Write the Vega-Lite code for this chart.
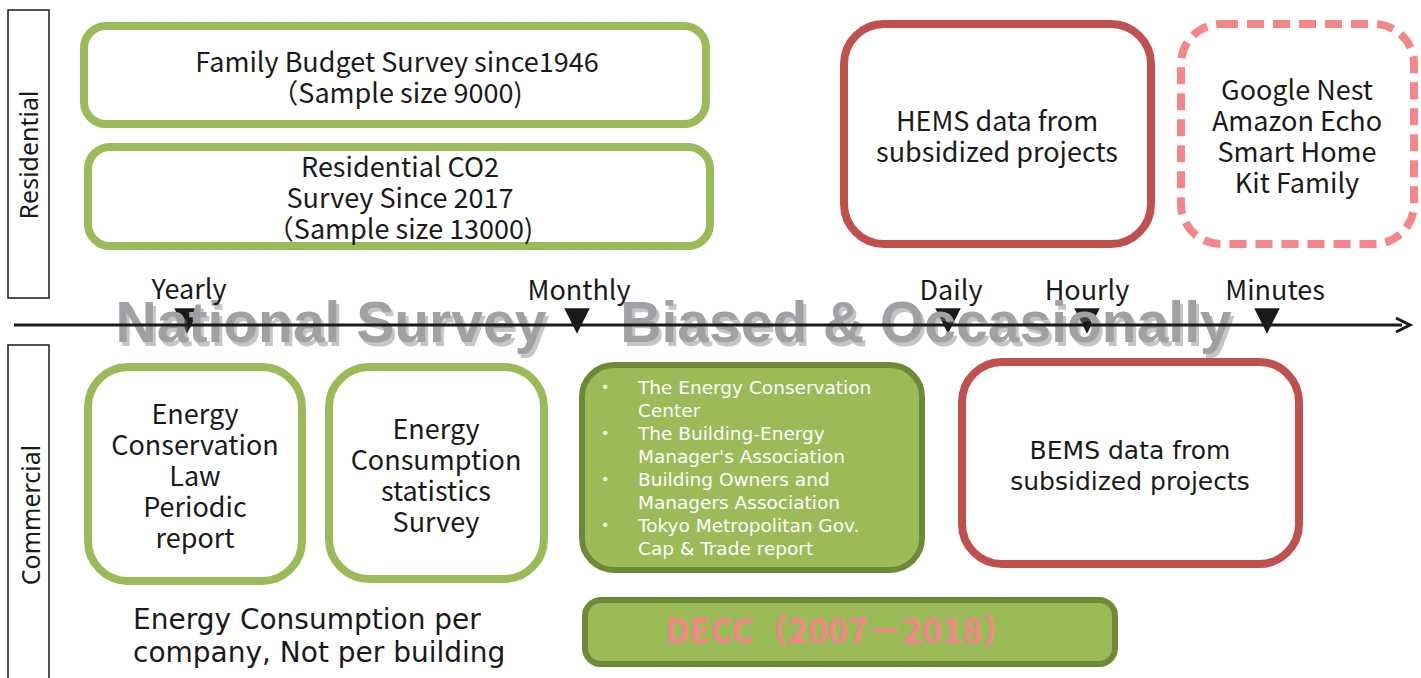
{
  "$schema": "https://vega.github.io/schema/vega-lite/v6.json",
  "width": 1421,
  "height": 678,
  "autosize": {"type": "fit", "contains": "padding"},
  "padding": 0,
  "background": "white",
  "config": {"view": {"stroke": null}},
  "datasets": {
    "panels": [
      {"sector": "Residential", "x": 8, "x2": 49, "y": 10, "y2": 298, "tx": 30, "ty": 155},
      {"sector": "Commercial", "x": 8, "x2": 49, "y": 345, "y2": 700, "tx": 32, "ty": 515}
    ],
    "sources": [
      {"id": "family", "group": "res", "type": "survey", "x": 84, "x2": 706, "y": 26, "y2": 124},
      {"id": "co2", "group": "res", "type": "survey", "x": 88, "x2": 710, "y": 147, "y2": 246},
      {"id": "hems", "group": "big", "type": "subsidy", "x": 844, "x2": 1151, "y": 24, "y2": 244},
      {"id": "nest", "group": "dash", "type": "device", "x": 1181, "x2": 1414, "y": 24, "y2": 244},
      {"id": "ecl", "group": "big", "type": "survey", "x": 88, "x2": 302, "y": 367, "y2": 581},
      {"id": "ecs", "group": "big", "type": "survey", "x": 329, "x2": 544, "y": 367, "y2": 579},
      {"id": "bems", "group": "big", "type": "subsidy", "x": 962, "x2": 1299, "y": 362, "y2": 564}
    ],
    "filled": [
      {"id": "assoc", "x": 582, "x2": 922, "y": 365, "y2": 570},
      {"id": "decc", "x": 585, "x2": 1115, "y": 600, "y2": 664}
    ],
    "ticks": [
      {"freq": "Yearly", "x": 187, "lx": 189, "y": 321, "ly": 291},
      {"freq": "Monthly", "x": 577, "lx": 579, "y": 321, "ly": 292},
      {"freq": "Daily", "x": 948, "lx": 951, "y": 321, "ly": 292},
      {"freq": "Hourly", "x": 1087, "lx": 1087, "y": 321, "ly": 292},
      {"freq": "Minutes", "x": 1267, "lx": 1275, "y": 321, "ly": 292}
    ],
    "axisline": [{"x": 14, "x2": 1402, "y": 325}],
    "arrowhead": [{"x": 1403, "y": 325}],
    "banner": [
      {"label": "National Survey", "x": 331, "y": 342},
      {"label": "Biased & Occasionally", "x": 926, "y": 342}
    ],
    "texts": [
      {"label": "Family Budget Survey since1946\n（Sample size 9000)", "x": 397, "y": 64},
      {"label": "Residential CO2\nSurvey Since 2017\n（Sample size 13000)", "x": 400, "y": 169},
      {"label": "HEMS data from\nsubsidized projects", "x": 997, "y": 123},
      {"label": "Google Nest\nAmazon Echo\nSmart Home\nKit Family", "x": 1297, "y": 92},
      {"label": "Energy\nConservation\nLaw\nPeriodic\nreport", "x": 195, "y": 416},
      {"label": "Energy\nConsumption\nstatistics\nSurvey", "x": 436, "y": 431}
    ],
    "vtexts": [
      {"label": "BEMS data from\nsubsidized projects", "x": 1130, "y": 450.5}
    ],
    "note": [
      {"label": "Energy Consumption per\ncompany, Not per building", "x": 133, "y": 620.5}
    ],
    "bullets": [
      {"label": "The Energy Conservation\nCenter", "x": 638, "bx": 605, "y": 387.5, "by": 388},
      {"label": "The Building-Energy\nManager's Association", "x": 638, "bx": 605, "y": 433.5, "by": 434},
      {"label": "Building Owners and\nManagers Association", "x": 638, "bx": 605, "y": 479.5, "by": 480},
      {"label": "Tokyo Metropolitan Gov.\nCap & Trade report", "x": 638, "bx": 605, "y": 525.5, "by": 526}
    ],
    "decc": [{"label": "DECC（2007－2018）", "x": 841, "y": 633}]
  },
  "layer": [
    {
      "data": {"name": "panels"},
      "mark": {"type": "rect", "fill": "white", "stroke": "#1a1a1a", "strokeWidth": 1.5, "clip": true},
      "encoding": {
        "x": {"field": "x", "type": "quantitative", "scale": {"domain": [0, 1421], "nice": false, "zero": false}, "axis": null},
        "x2": {"field": "x2"},
        "y": {"field": "y", "type": "quantitative", "scale": {"domain": [0, 678], "nice": false, "zero": false, "reverse": true}, "axis": null},
        "y2": {"field": "y2"}
      }
    },
    {
      "data": {"name": "panels"},
      "mark": {"type": "text", "angle": 270, "font": "Noto Sans", "fontSize": 25, "color": "#1a1a1a", "align": "center", "baseline": "middle"},
      "encoding": {
        "x": {"field": "tx", "type": "quantitative"},
        "y": {"field": "ty", "type": "quantitative"},
        "text": {"field": "sector"}
      }
    },
    {
      "data": {"name": "sources"},
      "transform": [{"filter": "datum.group === 'res'"}],
      "mark": {"type": "rect", "fill": "white", "strokeWidth": 8, "cornerRadius": 22},
      "encoding": {
        "x": {"field": "x", "type": "quantitative"},
        "x2": {"field": "x2"},
        "y": {"field": "y", "type": "quantitative"},
        "y2": {"field": "y2"},
        "stroke": {"field": "type", "type": "nominal", "scale": {"domain": ["survey", "subsidy", "device"], "range": ["#9BBB59", "#C0504D", "#F4868A"]}, "legend": null}
      }
    },
    {
      "data": {"name": "sources"},
      "transform": [{"filter": "datum.group === 'big'"}],
      "mark": {"type": "rect", "fill": "white", "strokeWidth": 8, "cornerRadius": 40},
      "encoding": {
        "x": {"field": "x", "type": "quantitative"},
        "x2": {"field": "x2"},
        "y": {"field": "y", "type": "quantitative"},
        "y2": {"field": "y2"},
        "stroke": {"field": "type", "type": "nominal", "scale": {"domain": ["survey", "subsidy", "device"], "range": ["#9BBB59", "#C0504D", "#F4868A"]}, "legend": null}
      }
    },
    {
      "data": {"name": "sources"},
      "transform": [{"filter": "datum.group === 'dash'"}],
      "mark": {"type": "rect", "fill": "white", "strokeWidth": 8, "cornerRadius": 40, "strokeDash": [17, 9]},
      "encoding": {
        "x": {"field": "x", "type": "quantitative"},
        "x2": {"field": "x2"},
        "y": {"field": "y", "type": "quantitative"},
        "y2": {"field": "y2"},
        "stroke": {"field": "type", "type": "nominal", "scale": {"domain": ["survey", "subsidy", "device"], "range": ["#9BBB59", "#C0504D", "#F4868A"]}, "legend": null}
      }
    },
    {
      "data": {"name": "filled"},
      "transform": [{"filter": "datum.id === 'assoc'"}],
      "mark": {"type": "rect", "fill": "#9BBB59", "stroke": "#6C8A37", "strokeWidth": 6, "cornerRadius": 32},
      "encoding": {
        "x": {"field": "x", "type": "quantitative"},
        "x2": {"field": "x2"},
        "y": {"field": "y", "type": "quantitative"},
        "y2": {"field": "y2"}
      }
    },
    {
      "data": {"name": "filled"},
      "transform": [{"filter": "datum.id === 'decc'"}],
      "mark": {"type": "rect", "fill": "#9BBB59", "stroke": "#6C8A37", "strokeWidth": 6, "cornerRadius": 16},
      "encoding": {
        "x": {"field": "x", "type": "quantitative"},
        "x2": {"field": "x2"},
        "y": {"field": "y", "type": "quantitative"},
        "y2": {"field": "y2"}
      }
    },
    {
      "data": {"name": "ticks"},
      "mark": {"type": "point", "shape": "M-1,-1L1,-1L0,1Z", "filled": true, "color": "#1a1a1a", "size": 650, "opacity": 1},
      "encoding": {
        "x": {"field": "x", "type": "quantitative"},
        "y": {"field": "y", "type": "quantitative"}
      }
    },
    {
      "data": {"name": "banner"},
      "mark": {"type": "text", "font": "Liberation Sans", "fontWeight": "bold", "fontSize": 57, "color": "#7f7f7f", "opacity": 0.45, "dx": 3, "dy": 4, "align": "center", "baseline": "alphabetic"},
      "encoding": {
        "x": {"field": "x", "type": "quantitative"},
        "y": {"field": "y", "type": "quantitative"},
        "text": {"field": "label"}
      }
    },
    {
      "data": {"name": "banner"},
      "mark": {"type": "text", "font": "Liberation Sans", "fontWeight": "bold", "fontSize": 57, "color": "#A0A1A5", "align": "center", "baseline": "alphabetic"},
      "encoding": {
        "x": {"field": "x", "type": "quantitative"},
        "y": {"field": "y", "type": "quantitative"},
        "text": {"field": "label"}
      }
    },
    {
      "data": {"name": "axisline"},
      "mark": {"type": "rule", "color": "#1a1a1a", "strokeWidth": 3},
      "encoding": {
        "x": {"field": "x", "type": "quantitative"},
        "x2": {"field": "x2"},
        "y": {"field": "y", "type": "quantitative"}
      }
    },
    {
      "data": {"name": "arrowhead"},
      "mark": {"type": "point", "shape": "M-1,-1L1,0L-1,1", "filled": false, "stroke": "#1a1a1a", "strokeWidth": 3, "size": 196, "opacity": 1},
      "encoding": {
        "x": {"field": "x", "type": "quantitative"},
        "y": {"field": "y", "type": "quantitative"}
      }
    },
    {
      "data": {"name": "ticks"},
      "mark": {"type": "text", "font": "Noto Sans CJK JP", "fontSize": 27, "color": "#1a1a1a", "align": "center", "baseline": "middle"},
      "encoding": {
        "x": {"field": "lx", "type": "quantitative"},
        "y": {"field": "ly", "type": "quantitative"},
        "text": {"field": "freq"}
      }
    },
    {
      "data": {"name": "texts"},
      "mark": {"type": "text", "font": "Noto Sans CJK JP", "fontSize": 27, "lineHeight": 31, "lineBreak": "\n", "color": "#1a1a1a", "align": "center", "baseline": "middle"},
      "encoding": {
        "x": {"field": "x", "type": "quantitative"},
        "y": {"field": "y", "type": "quantitative"},
        "text": {"field": "label"}
      }
    },
    {
      "data": {"name": "vtexts"},
      "mark": {"type": "text", "font": "DejaVu Sans", "fontSize": 25, "lineHeight": 31, "lineBreak": "\n", "color": "#1a1a1a", "align": "center", "baseline": "middle"},
      "encoding": {
        "x": {"field": "x", "type": "quantitative"},
        "y": {"field": "y", "type": "quantitative"},
        "text": {"field": "label"}
      }
    },
    {
      "data": {"name": "note"},
      "mark": {"type": "text", "font": "DejaVu Sans", "fontSize": 28, "lineHeight": 33, "lineBreak": "\n", "color": "#1a1a1a", "align": "left", "baseline": "middle"},
      "encoding": {
        "x": {"field": "x", "type": "quantitative"},
        "y": {"field": "y", "type": "quantitative"},
        "text": {"field": "label"}
      }
    },
    {
      "data": {"name": "bullets"},
      "mark": {"type": "text", "font": "DejaVu Sans", "fontSize": 18.5, "lineHeight": 23, "lineBreak": "\n", "color": "white", "align": "left", "baseline": "middle"},
      "encoding": {
        "x": {"field": "x", "type": "quantitative"},
        "y": {"field": "y", "type": "quantitative"},
        "text": {"field": "label"}
      }
    },
    {
      "data": {"name": "bullets"},
      "mark": {"type": "text", "font": "DejaVu Sans", "fontSize": 14, "color": "white", "align": "center", "baseline": "middle", "text": "•"},
      "encoding": {
        "x": {"field": "bx", "type": "quantitative"},
        "y": {"field": "by", "type": "quantitative"}
      }
    },
    {
      "data": {"name": "decc"},
      "mark": {"type": "text", "font": "Noto Sans CJK JP", "fontWeight": "bold", "fontSize": 34, "color": "#F4868A", "align": "center", "baseline": "middle"},
      "encoding": {
        "x": {"field": "x", "type": "quantitative"},
        "y": {"field": "y", "type": "quantitative"},
        "text": {"field": "label"}
      }
    }
  ]
}
